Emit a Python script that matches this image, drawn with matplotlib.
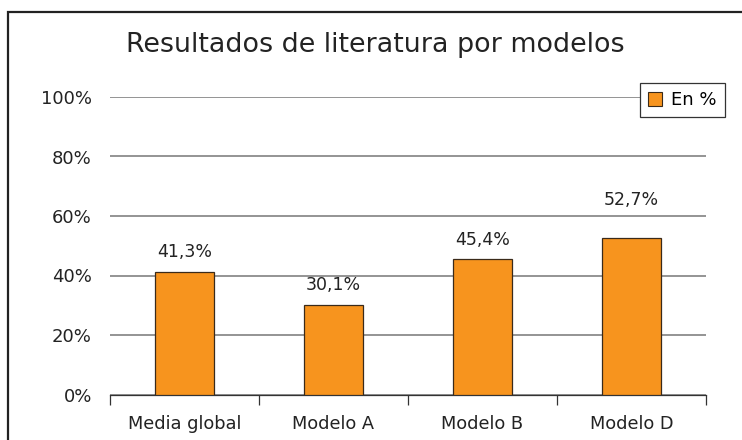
import matplotlib.pyplot as plt
from matplotlib.patches import Rectangle, Patch
import numpy as np

plt.rcParams['font.family'] = ['DejaVu Sans']

categories = ['Media global', 'Modelo A', 'Modelo B', 'Modelo D']
values = [41.3, 30.1, 45.4, 52.7]
labels = ['41,3%', '30,1%', '45,4%', '52,7%']
yticks = [0, 20, 40, 60, 80, 100]

orange = '#F7941E'
ink = '#232323'

fig = plt.figure(figsize=(7.42, 4.4), dpi=100)
W, H = 742, 440
ax = fig.add_axes([110 / W, 1 - 394.5 / H, 596 / W, 297.5 / H])

# outer frame
fig.patches.append(Rectangle((8 / W, -0.1), 1.2, 1 - 12 / H + 0.1,
                             transform=fig.transFigure, fill=False,
                             edgecolor='#222222', linewidth=1.6))

x = np.arange(len(categories))
ax.bar(x, values, width=0.4, color=orange, edgecolor='#3a2a1a', linewidth=0.9,
       zorder=3)

# value labels, pushed above a gridline when they would sit on it
for xi, v, lab in zip(x, values, labels):
    y = v + 5
    for g in yticks:
        if v < g < y + 4.5:
            y = g + 3.6
    ax.text(xi, y, lab, ha='center', va='baseline', fontsize=12.5, color=ink)

ax.set_xlim(-0.5, len(categories) - 0.5)
ax.set_ylim(0, 100)
ax.set_yticks(yticks)
ax.set_yticklabels([f'{t}%' for t in yticks], fontsize=13, color=ink)
ax.tick_params(axis='y', length=0, pad=13)
ax.yaxis.grid(True, color='#777777', linewidth=1.1, zorder=0)

ax.set_xticks(np.arange(-0.5, len(categories), 1.0))
ax.set_xticklabels([])
ax.set_xticks(x, minor=True)
ax.set_xticklabels(categories, minor=True, fontsize=12.8, color=ink)
ax.tick_params(axis='x', which='major', length=7, width=0.9, color='#333333', direction='out')
ax.tick_params(axis='x', which='minor', length=0, pad=15)

for s in ['top', 'right', 'left']:
    ax.spines[s].set_visible(False)
ax.spines['bottom'].set_color('#333333')
ax.spines['bottom'].set_linewidth(0.9)

fig.text(375 / W, 1 - 52 / H, 'Resultados de literatura por modelos',
         ha='center', va='baseline', fontsize=19.4, color=ink)

leg = ax.legend(handles=[Patch(facecolor=orange, edgecolor='#3a2a1a', linewidth=0.8, label='En %')],
                loc='upper right', bbox_to_anchor=(725 / W, 1 - 83 / H),
                bbox_transform=fig.transFigure, fontsize=13, frameon=True,
                fancybox=False, edgecolor='#333333', framealpha=1,
                handlelength=0.8, handleheight=0.8, handletextpad=0.5,
                borderpad=0.45, borderaxespad=0)
leg.get_frame().set_linewidth(0.9)
leg.set_zorder(5)

fig.savefig('out.png', dpi=100)
